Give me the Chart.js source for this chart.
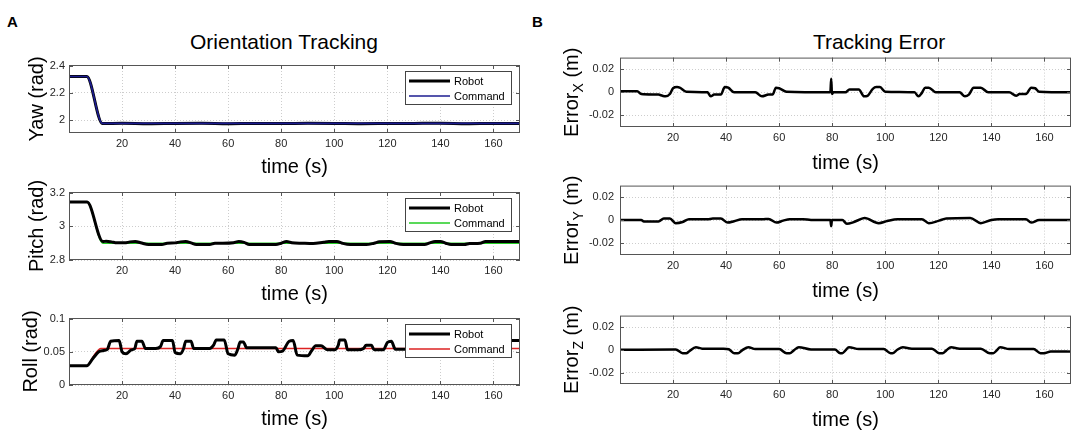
<!DOCTYPE html>
<html>
<head>
<meta charset="utf-8">
<title>Orientation Tracking / Tracking Error</title>
<script src="https://cdn.jsdelivr.net/npm/chart.js@4.4.1/dist/chart.umd.min.js"></script>
<style>
  html, body { margin: 0; padding: 0; background: #fff; }
  body { width: 1084px; height: 437px; position: relative; overflow: hidden;
         font-family: "Liberation Sans", Arial, sans-serif; }
  canvas { position: absolute; }
  .lbl { position: absolute; color: #000; white-space: nowrap; line-height: 1; }
  .panel { font-weight: bold; font-size: 15px; }
  .title { font-size: 21px; transform: translateX(-50%); }
</style>
</head>
<body>
<div class="lbl panel" style="left:7px;top:14px">A</div>
<div class="lbl panel" style="left:532px;top:14px">B</div>
<div class="lbl title" style="left:284px;top:31px">Orientation Tracking</div>
<div class="lbl title" style="left:879px;top:31px">Tracking Error</div>

<canvas id="yaw"></canvas>
<canvas id="pitch"></canvas>
<canvas id="roll"></canvas>
<canvas id="errX"></canvas>
<canvas id="errY"></canvas>
<canvas id="errZ"></canvas>

<script>
// ---- data ----
const timeTicks = [20, 40, 60, 80, 100, 120, 140, 160];

const yawTicks = [2, 2.2, 2.4];
const yawTime = [0, 6.7, 12.6, 20, 30, 40, 50, 60, 70, 80, 90, 100, 110, 120, 130, 140, 150, 160, 170];
const yawRobot = [2.322, 2.322, 1.974, 1.976, 1.973, 1.975, 1.976, 1.973, 1.975, 1.974, 1.976, 1.975, 1.973, 1.974, 1.975, 1.976, 1.973, 1.975, 1.974];
const yawCmdTime = [0, 6.7, 12.6, 170];
const yawCommand = [2.322, 2.322, 1.975, 1.975];

const pitchTicks = [2.8, 3, 3.2];
const pitchTime = [0, 6.8, 12.8, 14, 16, 18, 21, 23, 25, 27, 30, 35, 37, 40, 42, 44, 46, 48, 53, 55, 58, 62, 64, 66, 68, 78,
  80, 82, 84, 88, 92, 96, 98, 101, 103, 106, 112, 115, 117, 121, 123, 126, 134, 136, 138, 140, 142, 144, 149, 151, 155, 157, 170];
const pitchRobot = [3.145, 3.145, 2.91, 2.912, 2.908, 2.902, 2.902, 2.908, 2.91, 2.903, 2.892, 2.892, 2.9, 2.902, 2.908, 2.91, 2.902, 2.892, 2.892, 2.9, 2.9, 2.903, 2.91, 2.905, 2.892, 2.892,
  2.9, 2.91, 2.903, 2.9, 2.898, 2.906, 2.91, 2.91, 2.9, 2.892, 2.892, 2.9, 2.908, 2.91, 2.9, 2.892, 2.892, 2.902, 2.91, 2.91, 2.9, 2.892, 2.892, 2.898, 2.9, 2.91, 2.91];
const pitchCmdTime = [0, 6.8, 12.8, 170];
const pitchCommand = [3.145, 3.145, 2.9, 2.9];

const rollTicks = [0, 0.05, 0.1];
const rollTime = [0, 6.7, 9, 11.2, 13.1, 14.5, 15.7, 18.9, 20, 21.5, 23.5, 24.8, 25.6, 27.5, 28.8, 32.7, 34.5, 35.5, 39, 40, 42, 43.2, 44, 46, 47, 53,
  54.5, 55.5, 58.5, 60, 62.5, 63.7, 64.5, 65.7, 67, 78, 79, 80.5, 83, 84.5, 86, 90, 91.5, 93, 95, 97.5, 100, 101.5, 102, 104, 105, 109,
  111, 112, 114, 115, 118.5, 120, 121.5, 123, 127, 130, 132, 134, 138, 141, 143, 150, 152, 155, 160, 164, 170];
const rollRobot = [0.029, 0.029, 0.04, 0.05, 0.052, 0.054, 0.066, 0.067, 0.05, 0.047, 0.053, 0.055, 0.066, 0.066, 0.055, 0.055, 0.058, 0.067, 0.067, 0.049, 0.047, 0.055, 0.066, 0.066, 0.055, 0.055,
  0.06, 0.068, 0.068, 0.047, 0.045, 0.055, 0.065, 0.065, 0.056, 0.056, 0.05, 0.051, 0.066, 0.067, 0.045, 0.044, 0.052, 0.059, 0.059, 0.053, 0.053, 0.06, 0.068, 0.068, 0.053, 0.053,
  0.055, 0.06, 0.06, 0.053, 0.053, 0.064, 0.066, 0.054, 0.054, 0.066, 0.066, 0.05, 0.055, 0.066, 0.05, 0.055, 0.066, 0.05, 0.055, 0.067, 0.067];
const rollCmdTime = [0, 6.7, 9.5, 12, 170];
const rollCommand = [0.029, 0.029, 0.045, 0.055, 0.055];

const errTicks = [-0.02, 0, 0.02];
const errXTime = [0, 6.5, 8, 14.5, 16, 17.2, 18.8, 20, 21.5, 22.5, 25, 33, 34.2, 35.5, 38, 39.5, 40.8, 43, 51, 53.5, 56, 57.5, 58.8, 60, 62.8,
  79.3, 79.6, 79.9, 80.4, 85, 86.5, 90, 92, 93.3, 95.3, 96.6, 98, 100, 111, 112.5, 113.8, 115, 116.4, 119, 128, 130, 131.5, 133.3, 136,
  138.8, 146.7, 149.3, 150.6, 153, 155, 156.5, 158, 170];
const errX = [0.001, 0.001, -0.0015, -0.002, -0.003, -0.0035, -0.0015, 0.0035, 0.0045, 0.004, 0.0005, 0, -0.0035, -0.002, -0.002, 0.0045, 0.004, 0, 0, -0.0035, -0.002, -0.002, 0.004, 0.0035, 0.0005,
  0, 0.0118, -0.0015, 0, 0, 0.0025, 0.0025, -0.0035, -0.003, 0.003, 0.0045, 0.0045, 0.0005, 0, -0.0035, -0.0005, 0.004, 0.004, 0, 0, -0.0035, -0.002, 0.004, 0.004,
  0, 0, -0.003, -0.0015, -0.0015, 0.004, 0.0035, 0.0005, 0];

const errYTime = [0, 8, 9, 14.5, 16.5, 18.8, 21, 23.6, 26, 30, 33, 35, 38, 40.6, 43, 46, 54, 56, 59, 61.5, 64, 69, 72, 79.3, 79.6, 79.9,
  83.8, 85.5, 87.6, 91.5, 92.2, 97.5, 100.7, 104.6, 113.8, 116.4, 120.3, 123, 132, 136, 140, 142.6, 153, 155, 158, 170];
const errY = [0.0003, 0.0003, -0.001, -0.001, 0.0015, 0.0015, -0.0025, -0.0015, 0.001, 0.001, 0.0008, 0.0015, 0.0015, -0.002, -0.0008, 0.001, 0.001, 0.0012, -0.002, -0.0003, 0.001, 0.001, 0.0003, 0.0003, -0.005, 0.0003,
  0.0003, -0.003, -0.002, 0.0017, 0.002, -0.0025, -0.0006, 0.001, 0.001, -0.0025, -0.0003, 0.0015, 0.002, -0.0025, 0.0003, 0.001, 0.001, -0.002, 0.0003, 0.0003];

const errZTime = [0, 21, 23.6, 25, 26, 28.6, 31, 39, 41, 43, 44.5, 46, 48.4, 51, 60, 62.8, 64, 65.5, 67.4, 72, 81, 83, 83.8, 85, 86.3, 90, 99.4,
  102, 102.7, 104.5, 106.6, 110, 117.6, 120.3, 121.6, 123, 124.8, 128, 136, 139.4, 140.7, 142, 143.3, 146.7, 155.9, 158.5, 159.8, 162.4, 170];
const errZ = [0, 0.0003, -0.003, -0.003, -0.0015, 0.0023, 0.001, 0.001, 0.0005, -0.003, -0.003, -0.0005, 0.0023, 0.0006, 0.0006, -0.003, -0.003, -0.0005, 0.0023, 0.0003, 0.0003, -0.003, -0.003, -0.0005, 0.0023, 0.0006, 0.0006,
  -0.003, -0.003, 0, 0.0023, 0.001, 0.001, -0.003, -0.003, -0.0005, 0.0023, 0.001, 0.001, -0.003, -0.003, -0.0005, 0.0023, 0.0006, 0.0006, -0.003, -0.003, -0.0015, -0.0015];

// ---- drawing ----
const FONT = '"Liberation Sans", Arial, sans-serif';

// MATLAB-ish axes box, inward ticks, boxed legend and a y label that can carry a subscript
const matlabFrame = {
  id: 'matlabFrame',
  afterDatasetsDraw(chart, args, opts) {
    const { ctx, chartArea: a, scales } = chart;
    ctx.save();
    ctx.strokeStyle = '#555';
    ctx.lineWidth = 1;
    ctx.strokeRect(a.left + 0.5, a.top + 0.5, a.right - a.left - 1, a.bottom - a.top - 1);
    ctx.beginPath();
    scales.x.ticks.forEach(t => {
      const px = Math.round(scales.x.getPixelForValue(t.value)) + 0.5;
      ctx.moveTo(px, a.bottom); ctx.lineTo(px, a.bottom - 4);
      ctx.moveTo(px, a.top); ctx.lineTo(px, a.top + 4);
    });
    scales.y.ticks.forEach(t => {
      const py = Math.round(scales.y.getPixelForValue(t.value)) + 0.5;
      ctx.moveTo(a.left, py); ctx.lineTo(a.left + 4, py);
      ctx.moveTo(a.right, py); ctx.lineTo(a.right - 4, py);
    });
    ctx.stroke();

    if (opts.legend) {
      const w = 106, h = 33;
      const bx = a.right - 9 - w, by = a.top + 6;
      ctx.fillStyle = '#fff';
      ctx.fillRect(bx, by, w, h);
      ctx.strokeStyle = '#444';
      ctx.strokeRect(bx + 0.5, by + 0.5, w, h);
      ctx.font = '11px ' + FONT;
      ctx.textBaseline = 'middle';
      opts.legend.forEach((name, i) => {
        const ds = chart.data.datasets.find(d => d.label === name);
        const ry = by + 10 + i * 15;
        ctx.strokeStyle = ds.borderColor;
        ctx.lineWidth = ds.borderWidth;
        ctx.beginPath(); ctx.moveTo(bx + 4, ry); ctx.lineTo(bx + 45, ry); ctx.stroke();
        ctx.fillStyle = '#000';
        ctx.fillText(name, bx + 49, ry + 0.5);
      });
    }

    if (opts.ylabel) {
      const parts = opts.ylabel;
      const widthOf = p => { ctx.font = (p.sub ? 14 : 20) + 'px ' + FONT; return ctx.measureText(p.text).width; };
      const total = parts.reduce((s, p) => s + widthOf(p), 0);
      ctx.translate(opts.ylabelX, (a.top + a.bottom) / 2);
      ctx.rotate(-Math.PI / 2);
      ctx.fillStyle = '#000';
      ctx.textBaseline = 'alphabetic';
      let x = -total / 2;
      parts.forEach(p => {
        const w = widthOf(p);
        ctx.fillText(p.text, x, p.sub ? 5 : 0);
        x += w;
      });
    }
    ctx.restore();
  }
};

function makePanel(id, cfg) {
  const canvas = document.getElementById(id);
  const padT = 12, padB = 50;
  const padL = cfg.area.x - cfg.canvasX;
  const padR = cfg.canvasW - padL - cfg.area.w;
  canvas.width = cfg.canvasW;
  canvas.height = padT + cfg.area.h + padB;
  canvas.style.left = cfg.canvasX + 'px';
  canvas.style.top = (cfg.area.y - padT) + 'px';

  return new Chart(canvas, {
    type: 'line',
    data: {
      datasets: cfg.series.map(s => ({
        label: s.label,
        data: s.t.map((t, i) => ({ x: t, y: s.v[i] })),
        borderColor: s.color,
        borderWidth: s.width,
        pointRadius: 0,
        cubicInterpolationMode: 'monotone',
        fill: false
      }))
    },
    options: {
      responsive: false,
      animation: false,
      devicePixelRatio: 1,
      layout: { padding: { top: padT, right: padR, left: 0, bottom: 0 } },
      plugins: {
        legend: { display: false },
        tooltip: { enabled: false },
        matlabFrame: { legend: cfg.legend, ylabel: cfg.ylabel, ylabelX: cfg.ylabelX }
      },
      scales: {
        x: {
          type: 'linear', min: 0, max: 170,
          afterBuildTicks: sc => { sc.ticks = timeTicks.map(v => ({ value: v })); },
          afterFit: sc => { sc.height = padB; },
          grid: { color: '#cdcdcd', lineWidth: 1, drawTicks: false },
          border: { display: false, dash: [1, 2] },
          ticks: { padding: 4, color: '#262626', font: { family: FONT, size: 11 }, maxRotation: 0, callback: v => String(v) },
          title: { display: true, text: 'time (s)', color: '#000', font: { family: FONT, size: 20 }, padding: { top: 0, bottom: cfg.xTitlePad } }
        },
        y: {
          type: 'linear', min: cfg.yRange[0], max: cfg.yRange[1],
          afterBuildTicks: sc => { sc.ticks = cfg.yTicks.map(v => ({ value: v })); },
          afterFit: sc => { sc.width = padL; },
          grid: { color: '#cdcdcd', lineWidth: 1, drawTicks: false },
          border: { display: false, dash: [1, 2] },
          ticks: { padding: cfg.yTickPad, color: '#262626', font: { family: FONT, size: 11 }, callback: v => String(v) }
        }
      }
    },
    plugins: [matlabFrame]
  });
}

const LEFT = { canvasX: 0, canvasW: 540, yTickPad: 4, xTitlePad: 4 };
const RIGHT = { canvasX: 540, canvasW: 544, yTickPad: 6, xTitlePad: 2, ylabelX: 38, yTicks: errTicks, yRange: [-0.03, 0.03] };

makePanel('yaw', Object.assign({}, LEFT, {
  area: { x: 69, y: 65, w: 451, h: 68 }, yRange: [1.904, 2.407], yTicks: yawTicks,
  ylabel: [{ text: 'Yaw (rad)' }], ylabelX: 43, legend: ['Robot', 'Command'],
  series: [
    { label: 'Command', t: yawCmdTime, v: yawCommand, color: '#1c1c90', width: 1.6 },
    { label: 'Robot', t: yawTime, v: yawRobot, color: '#000', width: 3 }
  ]
}));

makePanel('pitch', Object.assign({}, LEFT, {
  area: { x: 69, y: 192, w: 451, h: 68 }, yRange: [2.8, 3.205], yTicks: pitchTicks,
  ylabel: [{ text: 'Pitch (rad)' }], ylabelX: 43, legend: ['Robot', 'Command'],
  series: [
    { label: 'Robot', t: pitchTime, v: pitchRobot, color: '#000', width: 3 },
    { label: 'Command', t: pitchCmdTime, v: pitchCommand, color: '#22cc22', width: 1.6 }
  ]
}));

makePanel('roll', Object.assign({}, LEFT, {
  area: { x: 69, y: 318, w: 451, h: 67 }, yRange: [0, 0.101], yTicks: rollTicks,
  ylabel: [{ text: 'Roll (rad)' }], ylabelX: 37, legend: ['Robot', 'Command'],
  series: [
    { label: 'Robot', t: rollTime, v: rollRobot, color: '#000', width: 3 },
    { label: 'Command', t: rollCmdTime, v: rollCommand, color: '#dd2222', width: 1.6 }
  ]
}));

makePanel('errX', Object.assign({}, RIGHT, {
  area: { x: 620, y: 57, w: 451, h: 70 },
  ylabel: [{ text: 'Error' }, { text: 'X', sub: true }, { text: ' (m)' }],
  series: [{ label: 'Error X', t: errXTime, v: errX, color: '#000', width: 2.5 }]
}));

makePanel('errY', Object.assign({}, RIGHT, {
  area: { x: 620, y: 185, w: 451, h: 70 },
  ylabel: [{ text: 'Error' }, { text: 'Y', sub: true }, { text: ' (m)' }],
  series: [{ label: 'Error Y', t: errYTime, v: errY, color: '#000', width: 2.5 }]
}));

makePanel('errZ', Object.assign({}, RIGHT, {
  area: { x: 620, y: 315, w: 451, h: 69 },
  ylabel: [{ text: 'Error' }, { text: 'Z', sub: true }, { text: ' (m)' }],
  series: [{ label: 'Error Z', t: errZTime, v: errZ, color: '#000', width: 2.5 }]
}));
</script>
</body>
</html>
